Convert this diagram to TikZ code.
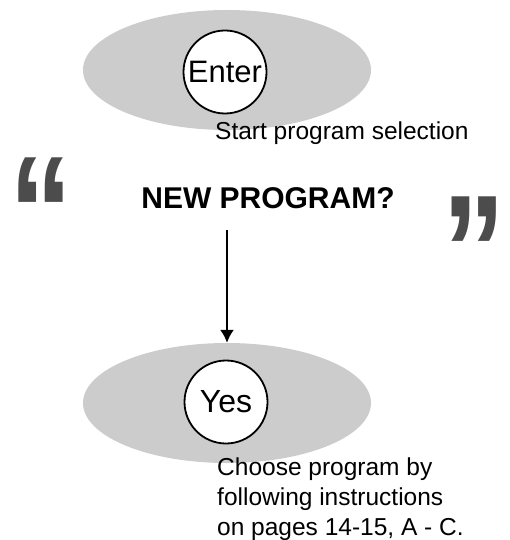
\documentclass[tikz,border=0pt]{standalone}
\usepackage{fontspec}
\setmainfont{Liberation Sans}
\usetikzlibrary{shapes.geometric, arrows.meta}
\definecolor{ovalgray}{gray}{0.8}
\definecolor{quotegray}{gray}{0.3}
\begin{document}
\begin{tikzpicture}[
    x=1pt, y=-1pt,
    oval/.style={ellipse, fill=ovalgray, minimum width=288pt, minimum height=120pt, inner sep=0pt},
    ring/.style={circle, draw, fill=white, line width=1.8pt, minimum size=83pt, inner sep=0pt, font=\fontsize{31}{31}\selectfont},
    note/.style={anchor=base west, inner sep=0pt, align=left, font=\fontsize{24.5}{30}\selectfont},
    quotemark/.style={anchor=base west, inner sep=0pt, xscale=0.8, text=quotegray, font=\fontsize{158}{158}\selectfont\bfseries}
]
\useasboundingbox (0,0) rectangle (510,540);

% Enter
\node[oval] (enterbg) at (227,70) {};
\node[ring] (enter) at (225,72) {Enter};
\node[note] (start) at (215,140) {Start program selection};

% Question
\node[quotemark] (lquote) at (9,266) {“};
\node[anchor=base, inner sep=0pt, font=\fontsize{30}{30}\selectfont\bfseries] (question) at (268,208) {NEW PROGRAM?};
\node[quotemark] (rquote) at (442,305) {”};

% Yes
\node[oval] (yesbg) at (227,403) {};
\node[ring, font=\fontsize{32}{32}\selectfont] (yes) at (226,402) {Yes};
\node[note] (choose) at (217,535) {Choose program by\\following instructions\\on pages 14-15, A - C.};

% Connection
\coordinate (qfoot) at (227,230);
\draw[-{Latex[length=13pt,width=14pt]}, line width=2pt] (qfoot) -- (yesbg.north);
\end{tikzpicture}
\end{document}
